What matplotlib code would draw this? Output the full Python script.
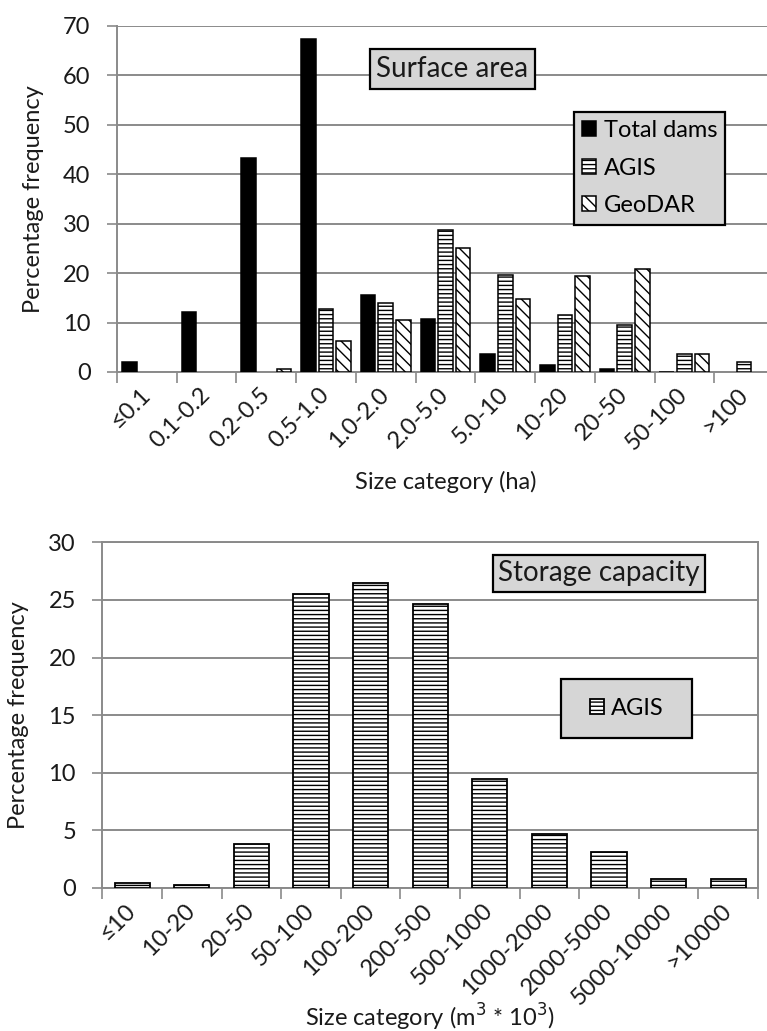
import matplotlib
matplotlib.use("Agg")
import matplotlib.pyplot as plt
import numpy as np
from matplotlib.patches import Rectangle

plt.rcParams['font.family'] = ['Lato', 'DejaVu Sans']
plt.rcParams['hatch.linewidth'] = 1.0

# ---- data ----
area_cats = ['≤0.1', '0.1-0.2', '0.2-0.5', '0.5-1.0', '1.0-2.0', '2.0-5.0',
             '5.0-10', '10-20', '20-50', '50-100', '>100']
total_dams = [2.0, 12.2, 43.2, 67.3, 15.5, 10.8, 3.6, 1.5, 0.7, 0.1, 0.0]
agis_area = [0.0, 0.0, 0.0, 12.8, 13.9, 28.7, 19.7, 11.5, 9.5, 3.6, 2.0]
geodar_area = [0.0, 0.0, 0.7, 6.3, 10.5, 25.0, 14.7, 19.5, 20.9, 3.7, 0.0]

storage_cats = ['≤10', '10-20', '20-50', '50-100', '100-200', '200-500',
                '500-1000', '1000-2000', '2000-5000', '5000-10000', '>10000']
agis_storage = [0.45, 0.25, 3.85, 25.5, 26.5, 24.65, 9.45, 4.65, 3.1, 0.75, 0.75]

W, H = 767, 1031
fig = plt.figure(figsize=(W / 100, H / 100), dpi=100)

GRID = '#8a8a8a'
TXT = '#1a1a1a'
FS_TICK = 17
FS_LAB = 17
FS_LEG = 17
FS_TITLE = 20


def fx(px):
    return px / W


def fy(py):
    return 1 - py / H


def nz(v):
    a = np.asarray(v, dtype=float)
    return np.where(a > 0, a, np.nan)


def style_axes(ax, cats, ymax, ystep):
    n = len(cats)
    ax.set_ylim(0, ymax)
    ax.set_yticks(np.arange(0, ymax + 0.01, ystep))
    ax.yaxis.grid(True, color=GRID, linewidth=1.4)
    ax.set_axisbelow(True)
    ax.set_xticks(np.arange(n + 1) - 0.5)
    ax.set_xticklabels([])
    ax.set_xticks(np.arange(n), minor=True)
    ax.set_xticklabels(cats, minor=True, rotation=45, ha='right', va='center',
                       rotation_mode='anchor', fontsize=FS_TICK, color=TXT)
    ax.tick_params(axis='x', which='major', length=8, width=1.2, color=GRID, direction='out')
    ax.tick_params(axis='x', which='minor', length=0, pad=14)
    ax.tick_params(axis='y', length=7, width=1.2, color=GRID, labelsize=FS_TICK,
                   labelcolor=TXT, pad=12)
    for s in ax.spines.values():
        s.set_color(GRID)
        s.set_linewidth(1.4)


# ---------------- top chart ----------------
ax1_h = (372 - 26) / H
ax1 = fig.add_axes([fx(117), fy(372), fx(657), ax1_h])
x = np.arange(len(area_cats))
bw = 0.245
off = 0.295
ax1.bar(x - off, nz(total_dams), bw, color='black', edgecolor='black', linewidth=1.1,
        label='Total dams', zorder=3)
ax1.bar(x, nz(agis_area), bw, color='white', edgecolor='black', linewidth=1.1,
        hatch='----', label='AGIS', zorder=3)
ax1.bar(x + off, nz(geodar_area), bw, color='white', edgecolor='black', linewidth=1.1,
        hatch='\\\\\\', label='GeoDAR', zorder=3)
ax1.set_xlim(-0.5, len(area_cats) - 0.5)
style_axes(ax1, area_cats, 70, 10)
ax1.spines['top'].set_visible(False)
ax1.spines['right'].set_visible(False)
ax1.set_ylabel('Percentage frequency', fontsize=FS_LAB, color=TXT)
ax1.set_xlabel('Size category (ha)', fontsize=FS_LAB, color=TXT)
ax1.yaxis.label.set_va('center')
ax1.yaxis.set_label_coords(-(117 - 33) / 657, 0.5)
ax1.xaxis.set_label_coords(0.5, 1 - (482 - 26) / (372 - 26))
ax1.xaxis.label.set_va('center')

leg1 = ax1.legend(loc='upper left', bbox_to_anchor=(fx(574), fy(112)),
                  bbox_transform=fig.transFigure, borderaxespad=0,
                  fancybox=False, framealpha=1, facecolor='#d6d6d6',
                  edgecolor='black', fontsize=FS_LEG, handlelength=0.6,
                  handleheight=0.6, handletextpad=0.3, labelspacing=0.7,
                  borderpad=0.35)
leg1.get_frame().set_linewidth(1.6)
leg1.set_zorder(5)

fig.text(fx(452.5), fy(69), 'Surface area', fontsize=FS_TITLE, color=TXT,
         ha='center', va='center',
         bbox=dict(boxstyle='square,pad=0.25', facecolor='#d6d6d6',
                   edgecolor='black', linewidth=1.6), zorder=6)

# ---------------- bottom chart ----------------
ax2 = fig.add_axes([fx(102.4), fy(888), fx(655.6), (888 - 542.3) / H])
x2 = np.arange(len(storage_cats))
ax2.bar(x2, nz(agis_storage), 0.59, color='white', edgecolor='black', linewidth=1.3,
        hatch='----', label='AGIS', zorder=3)
ax2.set_xlim(-0.5, len(storage_cats) - 0.5)
style_axes(ax2, storage_cats, 30, 5)
ax2.set_ylabel('Percentage frequency', fontsize=FS_LAB, color=TXT)
ax2.set_xlabel('Size category (m$^3$ * 10$^3$)', fontsize=FS_LAB, color=TXT)
ax2.yaxis.label.set_va('center')
ax2.yaxis.set_label_coords(-(102.4 - 19) / 655.6, 0.5)
ax2.xaxis.set_label_coords(0.5, -(1017 - 888) / (888 - 542.3))
ax2.xaxis.label.set_va('center')

ax2.add_patch(Rectangle((fx(561), fy(738)), fx(692) - fx(561), fy(679) - fy(738),
                        transform=fig.transFigure, facecolor='#d6d6d6',
                        edgecolor='black', linewidth=1.6, zorder=4, clip_on=False))
leg2 = ax2.legend(loc='center', bbox_to_anchor=(fx(626.5), fy(708.5)),
                  bbox_transform=fig.transFigure, frameon=False, fontsize=FS_LEG,
                  handlelength=0.6, handleheight=0.6, handletextpad=0.3)
leg2.set_zorder(5)

fig.text(fx(599), fy(573.5), 'Storage capacity', fontsize=FS_TITLE, color=TXT,
         ha='center', va='center',
         bbox=dict(boxstyle='square,pad=0.2', facecolor='#d6d6d6',
                   edgecolor='black', linewidth=1.6), zorder=6)

fig.savefig('out.png', dpi=100)
